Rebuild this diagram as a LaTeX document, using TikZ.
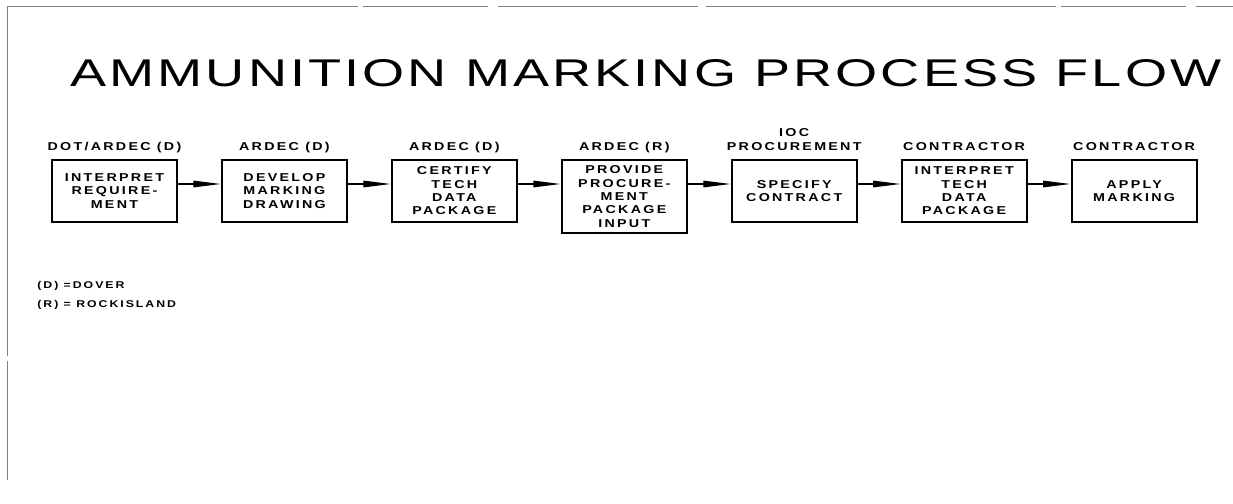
\documentclass[tikz,border=0pt]{standalone}
\usepackage{fontspec}
\usetikzlibrary{arrows.meta, positioning}
\newfontfamily\titlefont{Liberation Sans}[FakeStretch=1.4, LetterSpace=8]
\newfontfamily\boxfont{Liberation Sans}[FakeStretch=1.25, LetterSpace=20]

\begin{document}
\begin{tikzpicture}[
        x=0.2mm, y=-0.2mm,
        stepbox/.style={rectangle, draw, line width=1.1pt,
                        minimum width=25mm, minimum height=12.4mm, inner sep=0pt,
                        align=center, font=\boxfont\bfseries\fontsize{6.5}{7.6}\selectfont},
        head/.style={inner sep=0pt, text depth=0pt, align=center,
                     font=\boxfont\bfseries\fontsize{6.5}{7.5}\selectfont},
        legend/.style={inner sep=0pt, anchor=base west,
                       font=\boxfont\bfseries\fontsize{5.6}{7}\selectfont},
        arrow/.style={-{Triangle[length=5.5mm, width=1.3mm]}, line width=0.8pt},
        frame/.style={gray, line width=0.5pt, dash pattern=on 70mm off 1mm on 25mm off 2mm on 40mm off 1.5mm},
    ]
        \useasboundingbox (0,0) rectangle (1233,503);

        % scanned page edge
        \draw[frame] (8,6) -- (1233,6);
        \draw[frame] (7,6) -- (7,480);

        \node[anchor=base west, inner sep=0pt, font=\titlefont\fontsize{22}{22}\selectfont] (title) at (70,86) {AMMUNITION MARKING PROCESS FLOW};

        \node[stepbox, anchor=north west] (interp) at (51,159) {INTERPRET\\REQUIRE-\\MENT};
        \node[stepbox, right=8.6mm of interp.north east, anchor=north west] (develop) {DEVELOP\\MARKING\\DRAWING};
        \node[stepbox, right=8.6mm of develop.north east, anchor=north west] (certify) {CERTIFY\\TECH\\DATA\\PACKAGE};
        \node[stepbox, minimum height=14.6mm, right=8.6mm of certify.north east, anchor=north west] (provide) {PROVIDE\\PROCURE-\\MENT\\PACKAGE\\INPUT};
        \node[stepbox, right=8.6mm of provide.north east, anchor=north west] (specify) {SPECIFY\\CONTRACT};
        \node[stepbox, right=8.6mm of specify.north east, anchor=north west] (techdata) {INTERPRET\\TECH\\DATA\\PACKAGE};
        \node[stepbox, right=8.6mm of techdata.north east, anchor=north west] (apply) {APPLY\\MARKING};

        \node[head, above=1.7mm of interp] (interp-lbl) {DOT/ARDEC (D)};
        \node[head, above=1.7mm of develop] (develop-lbl) {ARDEC (D)};
        \node[head, above=1.7mm of certify] (certify-lbl) {ARDEC (D)};
        \node[head, above=1.7mm of provide] (provide-lbl) {ARDEC (R)};
        \node[head, above=1.7mm of specify] (specify-lbl) {IOC\\PROCUREMENT};
        \node[head, above=1.7mm of techdata] (techdata-lbl) {CONTRACTOR};
        \node[head, above=1.7mm of apply] (apply-lbl) {CONTRACTOR};

        \draw[arrow] ([yshift=-5mm]interp.north east) -- ([yshift=-5mm]develop.north west);
        \draw[arrow] ([yshift=-5mm]develop.north east) -- ([yshift=-5mm]certify.north west);
        \draw[arrow] ([yshift=-5mm]certify.north east) -- ([yshift=-5mm]provide.north west);
        \draw[arrow] ([yshift=-5mm]provide.north east) -- ([yshift=-5mm]specify.north west);
        \draw[arrow] ([yshift=-5mm]specify.north east) -- ([yshift=-5mm]techdata.north west);
        \draw[arrow] ([yshift=-5mm]techdata.north east) -- ([yshift=-5mm]apply.north west);

        \node[legend] (dover) at (37,288) {(D) =DOVER};
        \node[legend] (rock) at (37,307) {(R) = ROCKISLAND};

    \end{tikzpicture}
\end{document}
